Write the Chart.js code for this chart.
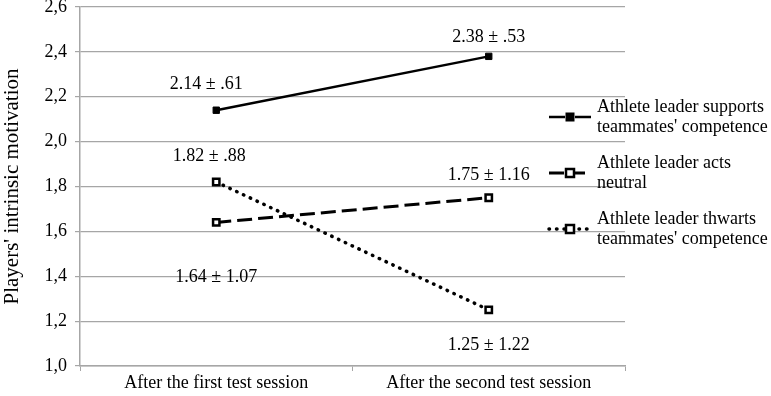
<!DOCTYPE html>
<html>
<head>
<meta charset="utf-8">
<script src="https://cdn.jsdelivr.net/npm/chart.js@4.4.1/dist/chart.umd.min.js"></script>
<style>
  html, body { margin: 0; padding: 0; background: #fff; }
  #wrap { width: 771px; height: 396px; }
</style>
</head>
<body>
<div id="wrap"><canvas id="grafico"></canvas></div>
<script>
const sesiones = ['After the first test session', 'After the second test session'];
const apoya = [2.14, 2.38];
const neutral = [1.64, 1.75];
const frustra = [1.82, 1.25];
const etiquetasApoya = ['2.14 \u00b1 .61', '2.38 \u00b1 .53'];
const etiquetasNeutral = ['1.64 \u00b1 1.07', '1.75 \u00b1 1.16'];
const etiquetasFrustra = ['1.82 \u00b1 .88', '1.25 \u00b1 1.22'];
const nombres = [
    ['Athlete leader supports', "teammates' competence"],
    ['Athlete leader acts', 'neutral'],
    ['Athlete leader thwarts', "teammates' competence"]
];

const FUENTE = '"Liberation Serif", "Times New Roman", serif';
const GRIS = '#a6a6a6';

// offsets de las etiquetas (dx, dy) respecto al punto
const desplaz = [
    [[-10, -26], [0, -19]],
    [[0, 55], [0, -22]],
    [[-7, -26], [0, 35]]
];

const etiquetasPlugin = {
    id: 'etiquetas',
    afterDatasetsDraw(chart) {
        const ctx = chart.ctx;
        const grupos = [etiquetasApoya, etiquetasNeutral, etiquetasFrustra];
        ctx.save();
        ctx.font = '18px ' + FUENTE;
        ctx.fillStyle = '#000';
        ctx.textAlign = 'center';
        ctx.textBaseline = 'middle';
        grupos.forEach((textos, i) => {
            const meta = chart.getDatasetMeta(i);
            meta.data.forEach((p, j) => {
                ctx.fillText(textos[j], p.x + desplaz[i][j][0], p.y + desplaz[i][j][1]);
            });
        });
        ctx.restore();
    }
};

const leyendaPlugin = {
    id: 'leyenda',
    afterDraw(chart) {
        const ctx = chart.ctx;
        const x0 = 549, largo = 42, xt = 597;
        const ys = [117, 173, 229];
        ctx.save();
        chart.data.datasets.forEach((ds, i) => {
            const y = ys[i];
            ctx.strokeStyle = '#000';
            ctx.lineWidth = ds.borderWidth;
            ctx.lineCap = ds.borderCapStyle || 'butt';
            ctx.setLineDash(ds.borderDash || []);
            ctx.beginPath();
            ctx.moveTo(x0, y);
            ctx.lineTo(x0 + largo, y);
            ctx.stroke();
            ctx.setLineDash([]);
            ctx.lineCap = 'butt';
            const cx = x0 + largo / 2;
            ctx.fillStyle = '#fff';
            ctx.fillRect(cx - 5, y - 5, 10, 10);
            ctx.fillStyle = ds.pointBackgroundColor;
            ctx.fillRect(cx - 4, y - 4, 8, 8);
            ctx.lineWidth = ds.pointBorderWidth;
            ctx.strokeRect(cx - 4, y - 4, 8, 8);
            ctx.fillStyle = '#000';
            ctx.font = '18px ' + FUENTE;
            ctx.textAlign = 'left';
            ctx.textBaseline = 'middle';
            ctx.fillText(nombres[i][0], xt, y - 10);
            ctx.fillText(nombres[i][1], xt, y + 10);
        });
        ctx.restore();
    }
};

new Chart(document.getElementById('grafico'), {
    type: 'line',
    data: {
        labels: sesiones,
        datasets: [{
            label: nombres[0].join(' '),
            data: apoya,
            borderColor: '#000',
            borderWidth: 2.5,
            pointStyle: 'rect',
            pointRadius: 4.5,
            pointBackgroundColor: '#000',
            pointBorderColor: '#000',
            pointBorderWidth: 1
        }, {
            label: nombres[1].join(' '),
            data: neutral,
            borderColor: '#000',
            borderWidth: 3,
            borderDash: [15, 6],
            pointStyle: 'rect',
            pointRadius: 4.5,
            pointBackgroundColor: '#fff',
            pointBorderColor: '#000',
            pointBorderWidth: 2.5
        }, {
            label: nombres[2].join(' '),
            data: frustra,
            borderColor: '#000',
            borderWidth: 3.5,
            borderDash: [0.5, 7],
            borderCapStyle: 'round',
            pointStyle: 'rect',
            pointRadius: 4.5,
            pointBackgroundColor: '#fff',
            pointBorderColor: '#000',
            pointBorderWidth: 2.5
        }]
    },
    options: {
        responsive: true,
        maintainAspectRatio: false,
        animation: false,
        layout: { padding: { left: 0, right: 146, top: 6, bottom: 0 } },
        plugins: {
            legend: { display: false },
            tooltip: { enabled: false }
        },
        scales: {
            x: {
                offset: true,
                grid: {
                    offset: true,
                    drawOnChartArea: false,
                    drawTicks: true,
                    tickLength: 5,
                    color: GRIS
                },
                border: { color: GRIS, width: 1.5 },
                ticks: { color: '#000', font: { family: FUENTE, size: 18 }, padding: 1, maxRotation: 0 },
                afterFit(scale) {
                    scale.height = 30;
                    scale.paddingLeft = 0;
                    scale.paddingRight = 0;
                }
            },
            y: {
                min: 1.0,
                max: 2.6,
                ticks: {
                    stepSize: 0.2,
                    color: '#000',
                    font: { family: FUENTE, size: 18 },
                    padding: 8,
                    callback: v => v.toFixed(1).replace('.', ',')
                },
                grid: { color: GRIS, lineWidth: 1.2, tickLength: 5 },
                border: { color: GRIS, width: 1.5 },
                title: {
                    display: true,
                    text: "Players' intrinsic motivation",
                    color: '#000',
                    font: { family: FUENTE, size: 21 },
                    padding: 0
                },
                afterFit(scale) {
                    scale.width = 80;
                    scale.paddingTop = 0;
                    scale.paddingBottom = 0;
                }
            }
        }
    },
    plugins: [etiquetasPlugin, leyendaPlugin]
});
</script>
</body>
</html>
